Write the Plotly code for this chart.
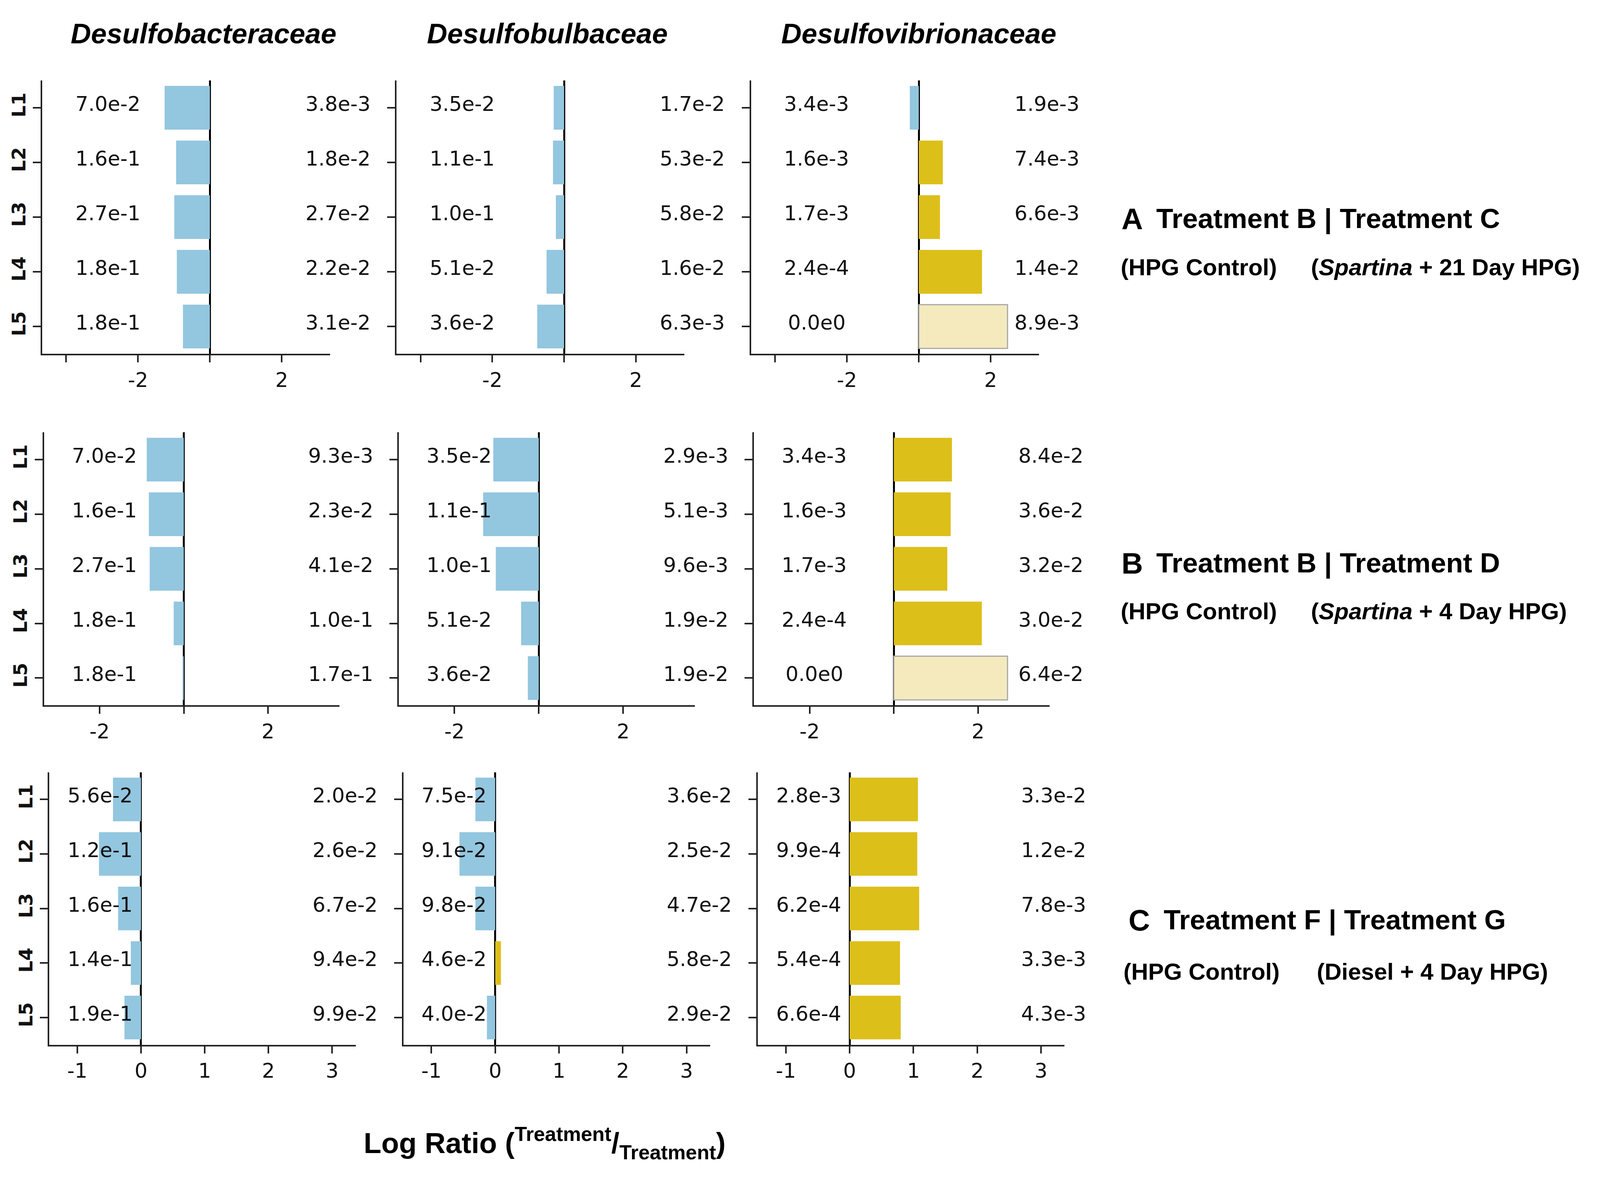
import plotly.graph_objects as go

# column headers and y categories
families = ["Desulfobacteraceae", "Desulfobulbaceae", "Desulfovibrionaceae"]
layers = ["L1", "L2", "L3", "L4", "L5"]

# log10 ratios, one list per family (row A: Treatment B | C)
log_ratio_a = [
    [-1.26, -0.94, -0.99, -0.92, -0.75],
    [-0.29, -0.31, -0.23, -0.49, -0.75],
    [-0.25, 0.67, 0.59, 1.76, 2.47],
]
left_a = [
    ["7.0e-2", "1.6e-1", "2.7e-1", "1.8e-1", "1.8e-1"],
    ["3.5e-2", "1.1e-1", "1.0e-1", "5.1e-2", "3.6e-2"],
    ["3.4e-3", "1.6e-3", "1.7e-3", "2.4e-4", "0.0e0"],
]
right_a = [
    ["3.8e-3", "1.8e-2", "2.7e-2", "2.2e-2", "3.1e-2"],
    ["1.7e-2", "5.3e-2", "5.8e-2", "1.6e-2", "6.3e-3"],
    ["1.9e-3", "7.4e-3", "6.6e-3", "1.4e-2", "8.9e-3"],
]

# row B: Treatment B | Treatment D
log_ratio_b = [
    [-0.88, -0.83, -0.81, -0.24, -0.02],
    [-1.08, -1.32, -1.02, -0.42, -0.26],
    [1.38, 1.35, 1.27, 2.09, 2.70],
]
left_b = [
    ["7.0e-2", "1.6e-1", "2.7e-1", "1.8e-1", "1.8e-1"],
    ["3.5e-2", "1.1e-1", "1.0e-1", "5.1e-2", "3.6e-2"],
    ["3.4e-3", "1.6e-3", "1.7e-3", "2.4e-4", "0.0e0"],
]
right_b = [
    ["9.3e-3", "2.3e-2", "4.1e-2", "1.0e-1", "1.7e-1"],
    ["2.9e-3", "5.1e-3", "9.6e-3", "1.9e-2", "1.9e-2"],
    ["8.4e-2", "3.6e-2", "3.2e-2", "3.0e-2", "6.4e-2"],
]

# row C: Treatment F | Treatment G
log_ratio_c = [
    [-0.44, -0.66, -0.36, -0.16, -0.26],
    [-0.31, -0.56, -0.31, 0.09, -0.13],
    [1.07, 1.06, 1.09, 0.79, 0.80],
]
left_c = [
    ["5.6e-2", "1.2e-1", "1.6e-1", "1.4e-1", "1.9e-1"],
    ["7.5e-2", "9.1e-2", "9.8e-2", "4.6e-2", "4.0e-2"],
    ["2.8e-3", "9.9e-4", "6.2e-4", "5.4e-4", "6.6e-4"],
]
right_c = [
    ["2.0e-2", "2.6e-2", "6.7e-2", "9.4e-2", "9.9e-2"],
    ["3.6e-2", "2.5e-2", "4.7e-2", "5.8e-2", "2.9e-2"],
    ["3.3e-2", "1.2e-2", "7.8e-3", "3.3e-3", "4.3e-3"],
]

panel_letters = ["A", "B", "C"]
comparisons = ["Treatment B | Treatment C", "Treatment B | Treatment D", "Treatment F | Treatment G"]
controls = ["(HPG Control)", "(HPG Control)", "(HPG Control)"]
treatments = ["(<i>Spartina</i> + 21 Day HPG)", "(<i>Spartina</i> + 4 Day HPG)", "(Diesel + 4 Day HPG)"]

# labelled ticks, plus unlabelled tick marks per row
x_tickvals = [[-2, 2], [-2, 2], [-1, 0, 1, 2, 3]]
x_ticktext = [["-2", "2"], ["-2", "2"], ["-1", "0", "1", "2", "3"]]
x_plain_ticks = [[-4, 0], [0], []]

rows = [
    (log_ratio_a, left_a, right_a),
    (log_ratio_b, left_b, right_b),
    (log_ratio_c, left_c, right_c),
]

# reference frame in pixels, used only to turn measured spots into paper fractions
W, H = 4249, 3022
BLUE = "#93c6df"
GOLD = "#ddbf1a"
PALE = "#f5eabd"
AXC = "#222222"

# pixel layout of each row: x spans of the 3 panels, top/bottom of plot area, x range, label spots
row_geom = [
    dict(xs=[(104, 872), (1049, 1816), (1994, 2762)], top=199, bot=903,
         xr=[-4.67, 3.35], lab_l=0.228, lab_r=1.028),
    dict(xs=[(109, 897), (1055, 1844), (2002, 2790)], top=1105, bot=1808,
         xr=[-3.32, 3.70], lab_l=0.204, lab_r=1.004),
    dict(xs=[(123, 940), (1067, 1885), (2012, 2830)], top=1980, bot=2682,
         xr=[-1.44, 3.37], lab_l=0.166, lab_r=0.965),
]
side_y = [(555, 680), (1442, 1566), (2361, 2494)]
side_x = [(2979, 3072, 2977, 3485), (2979, 3072, 2977, 3485), (2998, 3092, 2985, 3500)]

fig = go.Figure()
annotations = []
layout_axes = {}

for r, (ratios, lefts, rights) in enumerate(rows):
    g = row_geom[r]
    for c in range(3):
        idx = r * 3 + c + 1
        sfx = "" if idx == 1 else str(idx)
        vals = ratios[c]
        # undefined ratio (one abundance is zero) is drawn as a pale bar
        undefined = [lv == "0.0e0" for lv in lefts[c]]
        colors = [PALE if u else (GOLD if v > 0 else BLUE) for v, u in zip(vals, undefined)]
        line_w = [3 if u else 0 for u in undefined]
        fig.add_trace(go.Bar(
            x=vals, y=layers, orientation="h",
            marker=dict(color=colors, line=dict(color="#a8a8a8", width=line_w)),
            width=0.8, showlegend=False,
            xaxis="x" + sfx, yaxis="y" + sfx,
        ))
        x0, x1 = g["xs"][c]
        layout_axes["xaxis" + sfx] = dict(
            domain=[x0 / W, x1 / W], anchor="y" + sfx, range=g["xr"],
            tickmode="array", tickvals=x_tickvals[r], ticktext=x_ticktext[r],
            showgrid=False, zeroline=True, zerolinecolor="black", zerolinewidth=5,
            showline=True, linecolor=AXC, linewidth=4,
            ticks="outside", ticklen=18, tickwidth=4, tickcolor=AXC,
            tickfont=dict(family="DejaVu Sans", size=52, color="#111111"),
            fixedrange=True,
        )
        if x_plain_ticks[r]:
            layout_axes["xaxis" + sfx]["minor"] = dict(
                tickvals=x_plain_ticks[r], ticks="outside", ticklen=18,
                tickwidth=4, tickcolor=AXC, showgrid=False,
            )
        layout_axes["yaxis" + sfx] = dict(
            domain=[1 - g["bot"] / H, 1 - g["top"] / H], anchor="x" + sfx,
            type="category", categoryarray=layers, range=[4.5, -0.5],
            showgrid=False, zeroline=False,
            showline=True, linecolor=AXC, linewidth=4,
            ticks="outside", ticklen=20, tickwidth=4, tickcolor=AXC,
            showticklabels=(c == 0), tickangle=-90,
            tickfont=dict(family="DejaVu Sans", size=48, color="#111111", weight="bold"),
            fixedrange=True,
        )
        for k, lay in enumerate(layers):
            annotations.append(dict(
                text=lefts[c][k], xref="x" + sfx + " domain", yref="y" + sfx,
                x=g["lab_l"], y=lay, yshift=10, showarrow=False, xanchor="center",
                font=dict(family="DejaVu Sans", size=52, color="#111111"),
            ))
            annotations.append(dict(
                text=rights[c][k], xref="x" + sfx + " domain", yref="y" + sfx,
                x=g["lab_r"], y=lay, yshift=10, showarrow=False, xanchor="center",
                font=dict(family="DejaVu Sans", size=52, color="#111111"),
            ))

    # panel letter and comparison labels on the right
    ya, yb = side_y[r]
    xl, xt, xc, xd = side_x[r]
    annotations.append(dict(
        text="<b>" + panel_letters[r] + "</b>", xref="paper", yref="paper",
        x=xl / W, y=1 - ya / H, xanchor="left", yanchor="middle", showarrow=False,
        font=dict(family="Liberation Sans", size=76, color="black"),
    ))
    annotations.append(dict(
        text="<b>" + comparisons[r] + "</b>", xref="paper", yref="paper",
        x=xt / W, y=1 - ya / H, xanchor="left", yanchor="middle", showarrow=False,
        font=dict(family="Liberation Sans", size=71, color="black"),
    ))
    annotations.append(dict(
        text="<b>" + controls[r] + "</b>", xref="paper", yref="paper",
        x=xc / W, y=1 - yb / H, xanchor="left", yanchor="middle", showarrow=False,
        font=dict(family="Liberation Sans", size=60, color="black"),
    ))
    annotations.append(dict(
        text="<b>" + treatments[r] + "</b>", xref="paper", yref="paper",
        x=xd / W, y=1 - yb / H, xanchor="left", yanchor="middle", showarrow=False,
        font=dict(family="Liberation Sans", size=60, color="black"),
    ))

# family headers
for c, fam in enumerate(families):
    annotations.append(dict(
        text="<b><i>" + fam + "</i></b>", xref="paper", yref="paper",
        x=[534, 1451, 2441][c] / W, y=1 - 78 / H, xanchor="center", yanchor="middle",
        showarrow=False, font=dict(family="Liberation Sans", size=72, color="black"),
    ))

annotations.append(dict(
    text="<b>Log Ratio (<sup>Treatment</sup>/<sub>Treatment</sub>)</b>",
    xref="paper", yref="paper", x=1444 / W, y=1 - 2935 / H,
    xanchor="center", yanchor="middle", showarrow=False,
    font=dict(family="Liberation Sans", size=74, color="black"),
))

# size follows the browser window so nothing is cut at the edges
fig.update_layout(
    autosize=True,
    margin=dict(l=0, r=0, t=0, b=0),
    paper_bgcolor="white", plot_bgcolor="white",
    bargap=0.2, annotations=annotations,
    **layout_axes,
)

fig.write_html("out.html")
